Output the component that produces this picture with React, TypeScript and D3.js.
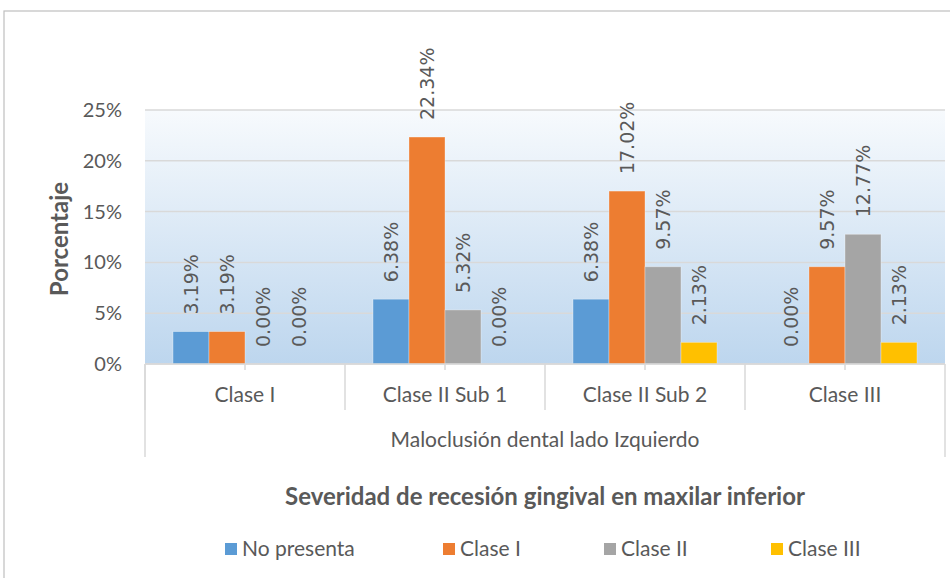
import React from "react";
import * as d3 from "d3";

const categories = ["Clase I", "Clase II Sub 1", "Clase II Sub 2", "Clase III"];
const seriesNames = ["No presenta", "Clase I", "Clase II", "Clase III"];
const noPresenta = [3.19, 6.38, 6.38, 0.0];
const claseI = [3.19, 22.34, 17.02, 9.57];
const claseII = [0.0, 5.32, 9.57, 12.77];
const claseIII = [0.0, 0.0, 2.13, 2.13];
const yTicks = [0, 5, 10, 15, 20, 25];
const colors = ["#5b9bd5", "#ed7d31", "#a5a5a5", "#ffc000"];

const values = [noPresenta, claseI, claseII, claseIII];

const W = 950;
const H = 578;
const plot = { left: 145, right: 945, top: 110, bottom: 364 };
const txt = "#595959";
const grid = "#d9d9d9";
const font = "Lato, 'Noto Sans', sans-serif";

const App = () => {
  const x0 = d3
    .scaleBand()
    .domain(categories)
    .range([plot.left, plot.right])
    .padding(0);
  const x1 = d3
    .scaleBand()
    .domain(seriesNames)
    .range([28, x0.bandwidth() - 28])
    .padding(0);
  const y = d3.scaleLinear().domain([0, 25]).range([plot.bottom, plot.top]);

  const legendX = [225, 443, 604, 771];

  return (
    <svg
      width={W}
      height={H}
      style={{ position: "absolute", left: 0, top: 0, background: "#fff" }}
      fontFamily={font}
    >
      <defs>
        <linearGradient id="bg" x1="0" y1="0" x2="0" y2="1">
          <stop offset="0%" stopColor="#f7fafd" />
          <stop offset="100%" stopColor="#bdd6ee" />
        </linearGradient>
      </defs>
      {/* chart border */}
      <rect x={4} y={11} width={W + 10} height={H + 10} fill="none" stroke="#bfbfbf" strokeWidth={1.2} />

      {/* plot area */}
      <rect
        x={plot.left}
        y={plot.top}
        width={plot.right - plot.left}
        height={plot.bottom - plot.top}
        fill="url(#bg)"
      />
      {yTicks.map((t) => (
        <g key={t}>
          <line x1={plot.left} x2={plot.right} y1={y(t)} y2={y(t)} stroke={grid} strokeWidth={1.5} />
          <text x={122} y={y(t)} dy="0.35em" textAnchor="end" fontSize={20} fill={txt}>
            {t}%
          </text>
        </g>
      ))}

      {/* bars */}
      {categories.map((c, ci) => (
        <g key={c} transform={`translate(${x0(c)},0)`}>
          {seriesNames.map((s, si) => {
            const v = values[si][ci];
            const bx = x1(s)!;
            return (
              <g key={s}>
                {v > 0 && (
                  <rect
                    x={bx}
                    y={y(v)}
                    width={x1.bandwidth()}
                    height={plot.bottom - y(v)}
                    fill={colors[si]}
                    stroke="#ffffff"
                    strokeOpacity={0.4}
                    strokeWidth={0.8}
                  />
                )}
                <text
                  transform={`translate(${bx + x1.bandwidth() / 2},${y(v) - 17}) rotate(-90)`}
                  dy="0.35em"
                  fontSize={19}
                  fontFamily="'DejaVu Sans', sans-serif"
                  fill={txt}
                >
                  {v.toFixed(2)}%
                </text>
              </g>
            );
          })}
        </g>
      ))}

      {/* category axis */}
      {categories.map((c) => (
        <g key={c}>
          <line x1={x0(c)} x2={x0(c)} y1={plot.bottom} y2={410} stroke={grid} strokeWidth={1.5} />
          <line
            x1={x0(c)! + x0.bandwidth() / 2}
            x2={x0(c)! + x0.bandwidth() / 2}
            y1={plot.bottom}
            y2={370}
            stroke={grid}
            strokeWidth={1.5}
          />
          <text
            x={x0(c)! + x0.bandwidth() / 2}
            y={395}
            dy="0.35em"
            textAnchor="middle"
            fontSize={21}
            fill={txt}
          >
            {c}
          </text>
        </g>
      ))}
      <line x1={plot.left} x2={plot.right} y1={plot.bottom} y2={plot.bottom} stroke={grid} strokeWidth={1.5} />
      <line x1={plot.left} x2={plot.left} y1={plot.bottom} y2={457} stroke={grid} strokeWidth={1.5} />
      <line x1={plot.right} x2={plot.right} y1={plot.bottom} y2={457} stroke={grid} strokeWidth={1.5} />
      <text x={(plot.left + plot.right) / 2} y={440} dy="0.35em" textAnchor="middle" fontSize={21} fill={txt}>
        Maloclusión dental lado Izquierdo
      </text>

      {/* y axis title */}
      <text
        transform={`translate(60,${(plot.top + plot.bottom) / 2 + 2}) rotate(-90)`}
        textAnchor="middle"
        dy="0.35em"
        fontSize={24}
        fontWeight="bold"
        fill={txt}
      >
        Porcentaje
      </text>

      {/* legend */}
      <text x={545} y={497} dy="0.35em" textAnchor="middle" fontSize={24} fontWeight="bold" fill={txt}>
        Severidad de recesión gingival en maxilar inferior
      </text>
      {seriesNames.map((s, i) => (
        <g key={s} transform={`translate(${legendX[i]},549)`}>
          <rect x={0} y={-6} width={12} height={12} fill={colors[i]} />
          <text x={17} dy="0.35em" fontSize={21} fill={txt}>
            {s}
          </text>
        </g>
      ))}
    </svg>
  );
};

export default App;
